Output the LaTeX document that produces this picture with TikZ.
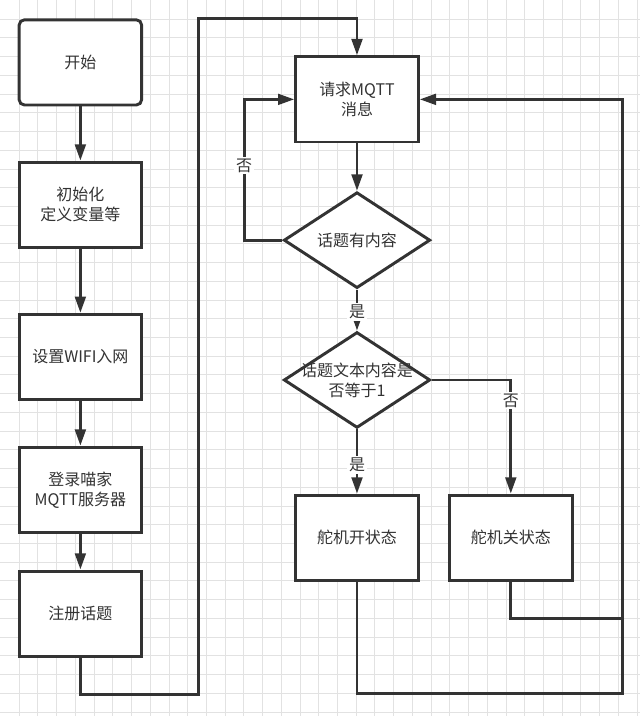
\documentclass[tikz,border=0pt]{standalone}
\usepackage{fontspec}
\setmainfont{Noto Sans CJK SC}
\usetikzlibrary{arrows.meta,calc,shapes.geometric}
\definecolor{fcink}{HTML}{333333}
\definecolor{fctext}{HTML}{333333}
\definecolor{fcgrid}{HTML}{E2E2E2}
\definecolor{fcpage}{HTML}{FFFFFF}
\tikzset{
  fcbox/.style={
    draw=fcink,
    line width=2.2pt,
    fill=fcpage,
    align=center,
    minimum width=92pt,
    minimum height=64pt,
    inner sep=2pt,
    font=\fontsize{12}{15}\selectfont,
    text=fctext
  },
  fcstart/.style={
    fcbox,
    rounded corners=4pt
  },
  fcdecision/.style={
    diamond,
    draw=fcink,
    line width=2.2pt,
    fill=fcpage,
    minimum width=110pt,
    minimum height=72pt,
    inner sep=0pt
  },
  fcdtext/.style={
    align=center,
    font=\fontsize{12}{15}\selectfont,
    text=fctext
  },
  fcedge/.style={
    -{Triangle[length=4.3mm,width=2.8mm]},
    line width=2.2pt,
    color=fcink
  },
  fcline/.style={
    line width=2.2pt,
    color=fcink
  },
  fclabel/.style={
    fill=fcpage,
    font=\fontsize{12}{15}\selectfont,
    text=fctext,
    inner sep=1.5pt
  }
}

\begin{document}
\begin{tikzpicture}[x=0.75pt,y=-0.75pt]
  % page and grid
  \fill[fcpage] (0,0) rectangle (640,716);
  \foreach \gx in {18.75,37.5,...,640}
    \draw[fcgrid, line width=0.75pt] (\gx,0) -- (\gx,716);
  \foreach \gy in {18.75,37.5,...,716}
    \draw[fcgrid, line width=0.75pt] (0,\gy) -- (640,\gy);
  \useasboundingbox (0,0) rectangle (640,716);

  % left column
  \node[fcstart] (start) at (80,62) {开始};
  \node[fcbox] (init) at (80,204.5) {初始化\\定义变量等};
  \node[fcbox] (wifi) at (80,357) {设置WIFI入网};
  \node[fcbox] (login) at (80,490) {登录喵家\\MQTT服务器};
  \node[fcbox] (topicreg) at (80,614) {注册话题};

  % right part
  \node[fcbox] (request) at (357,99) {请求MQTT\\消息};
  \node[fcdecision, label={[fcdtext]center:话题有内容}] (hascontent) at (357,240) {};
  \node[fcdecision, label={[fcdtext]center:{话题文本内容是\\否等于1}}] (isone) at (357,380) {};
  \node[fcbox] (servoon) at (357,538) {舵机开状态};
  \node[fcbox] (servooff) at (511,538) {舵机关状态};

  \draw[fcedge] (start) -- (init);
  \draw[fcedge] (init) -- (wifi);
  \draw[fcedge] (wifi) -- (login);
  \draw[fcedge] (login) -- (topicreg);

  \coordinate (regbottom) at (80,695);
  \coordinate (reglow) at (198,695);
  \coordinate (regtop) at (198,18);
  \draw[fcedge] (topicreg.south) -- (regbottom) -- (reglow) -- (regtop)
    -- (regtop -| request.north) -- (request.north);

  \draw[fcedge] (request) -- (hascontent);
  \coordinate (nobend) at (244,240);
  \draw[fcedge] (hascontent.west) -- (nobend)
    -- node[fclabel, pos=0.53] {否} (nobend |- request.west) -- (request.west);
  \draw[fcedge] (hascontent.south) -- node[fclabel, pos=0.55] {是} (isone.north);
  \draw[fcedge] (isone.south) -- node[fclabel, pos=0.55] {是} (servoon.north);
  \coordinate (offbend) at (511,380);
  \draw[fcedge] (isone.east) -- (offbend)
    -- node[fclabel, pos=0.18] {否} (servooff.north);

  \coordinate (backlow) at (623,694);
  \coordinate (backmid) at (623,619);
  \draw[fcline] (servooff.south) |- (backmid);
  \draw[fcedge] (servoon.south) |- (backlow) -- (backlow |- request.east)
    -- (request.east);
\end{tikzpicture}
\end{document}
